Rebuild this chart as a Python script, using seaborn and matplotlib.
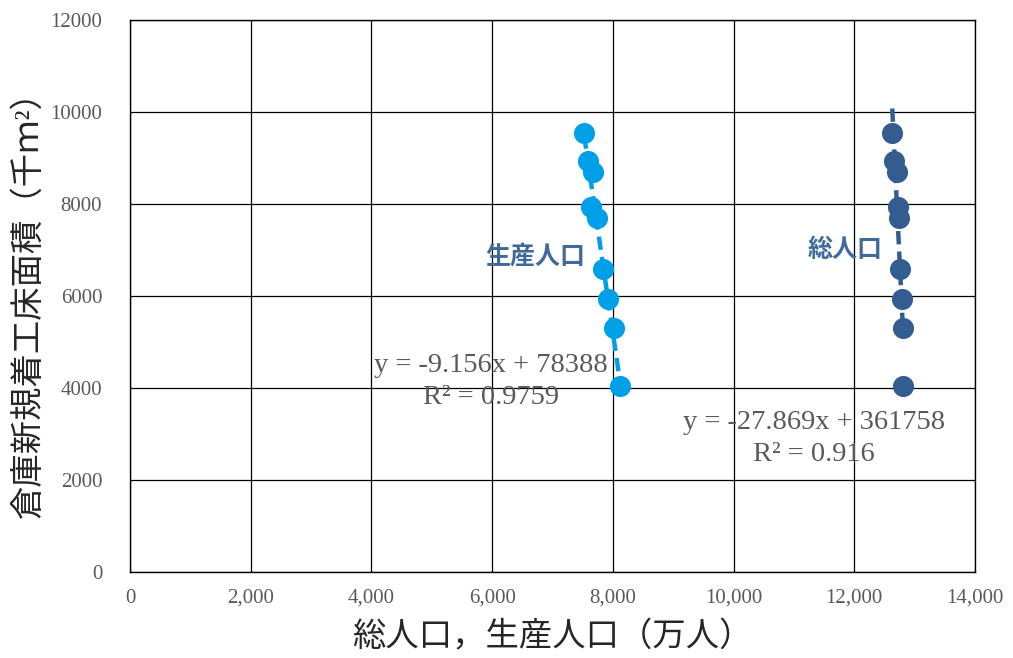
"""Warehouse new construction floor area vs. population (scatter + linear trend)."""

import matplotlib.pyplot as plt
import pandas as pd
import seaborn as sns
from matplotlib.ticker import FuncFormatter, MultipleLocator

sns.set_theme(style="white")
plt.rcParams["font.family"] = ["Liberation Serif", "Noto Sans CJK JP"]

# floor area (thousand m2), same for both series
floor_area = [9543, 8935, 8696, 7935, 7696, 6587, 5935, 5304, 4043]
# working-age population (10k persons)
working_pop = [7525, 7592, 7664, 7637, 7731, 7830, 7913, 8016, 8115]
# total population (10k persons)
total_pop = [12629, 12652, 12711, 12723, 12745, 12762, 12785, 12801, 12811]

LIGHT = "#00A0E9"
DARK = "#335C91"
LABEL = "#3F6A9A"
GRAY = "#595959"

df_work = pd.DataFrame({"pop": working_pop, "area": floor_area})
df_total = pd.DataFrame({"pop": total_pop, "area": floor_area})

fig = plt.figure(figsize=(10.13, 6.58), dpi=100)
ax = fig.add_axes([0.1283, 0.1307, 0.8342, 0.8389])

for data, color in [(df_work, LIGHT), (df_total, DARK)]:
    sns.scatterplot(data=data, x="pop", y="area", ax=ax, color=color,
                    s=230, edgecolor=color, linewidth=0, zorder=3)
    sns.regplot(data=data, x="pop", y="area", ax=ax, scatter=False, ci=None,
                truncate=True, color=color,
                line_kws=dict(lw=3.2, ls=(0, (3, 1.6)), zorder=4))

ax.set_xlim(0, 14000)
ax.set_ylim(0, 12000)
ax.xaxis.set_major_locator(MultipleLocator(2000))
ax.yaxis.set_major_locator(MultipleLocator(2000))
ax.xaxis.set_major_formatter(FuncFormatter(lambda v, _: f"{int(v):,}"))
ax.yaxis.set_major_formatter(FuncFormatter(lambda v, _: f"{int(v)}"))
ax.grid(True, color="black", lw=0.9)
for s in ax.spines.values():
    s.set_color("black")
    s.set_linewidth(1.0)
ax.tick_params(axis="both", labelsize=15, labelcolor=GRAY, length=0)
ax.tick_params(axis="x", pad=12)
ax.tick_params(axis="y", pad=20)

ax.set_xlabel("総人口，生産人口（万人）", fontsize=24, color="#262626", labelpad=10)
ax.set_ylabel("倉庫新規着工床面積（千ｍ²）", fontsize=24, color="#262626", labelpad=4)

ax.text(6720, 6850, "生産人口", fontsize=18, color=LABEL, ha="center", va="center",
        fontweight="bold")
ax.text(11850, 7000, "総人口", fontsize=18, color=LABEL, ha="center", va="center",
        fontweight="bold")

ax.text(5980, 4480, "y = -9.156x + 78388", fontsize=20.5, color=GRAY, ha="center", va="center")
ax.text(5980, 3800, "R² = 0.9759", fontsize=20.5, color=GRAY, ha="center", va="center")
ax.text(11330, 3240, "y = -27.869x + 361758", fontsize=20.5, color=GRAY, ha="center", va="center")
ax.text(11330, 2560, "R² = 0.916", fontsize=20.5, color=GRAY, ha="center", va="center")

fig.savefig("out.png", dpi=100)
